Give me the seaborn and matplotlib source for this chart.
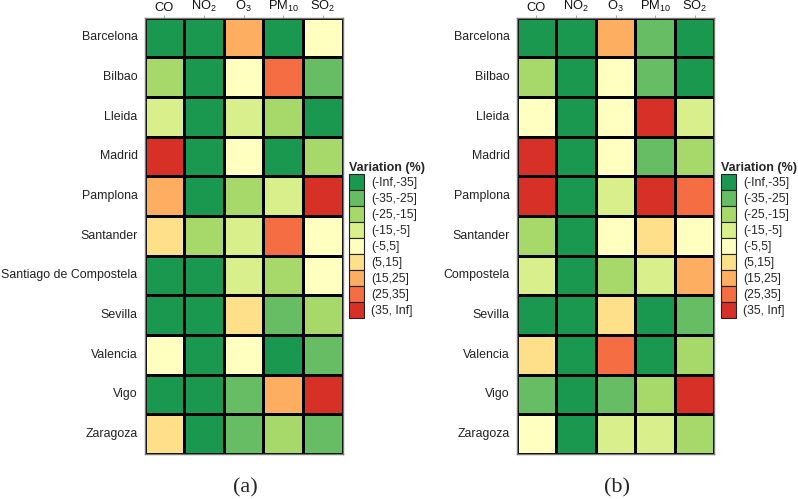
import numpy as np
import pandas as pd
import matplotlib
matplotlib.use("Agg")
import matplotlib.pyplot as plt
from matplotlib.colors import ListedColormap
from matplotlib.patches import Patch
import seaborn as sns

sns.set_style("white")
plt.rcParams['font.family'] = ['Liberation Sans', 'DejaVu Sans']
plt.rcParams['mathtext.fontset'] = 'custom'
plt.rcParams['mathtext.rm'] = 'Liberation Sans'
plt.rcParams['mathtext.it'] = 'Liberation Sans:italic'
plt.rcParams['mathtext.bf'] = 'Liberation Sans:bold'

pollutants = ['CO', r'NO$_2$', r'O$_3$', r'PM$_{10}$', r'SO$_2$']
cities_a = ['Barcelona', 'Bilbao', 'Lleida', 'Madrid', 'Pamplona', 'Santander',
            'Santiago de Compostela', 'Sevilla', 'Valencia', 'Vigo', 'Zaragoza']
cities_b = ['Barcelona', 'Bilbao', 'Lleida', 'Madrid', 'Pamplona', 'Santander',
            'Compostela', 'Sevilla', 'Valencia', 'Vigo', 'Zaragoza']
classes = ['(-Inf,-35]', '(-35,-25]', '(-25,-15]', '(-15,-5]', '(-5,5]',
           '(5,15]', '(15,25]', '(25,35]', '(35, Inf]']
colors = ['#1a9850', '#66bd63', '#a6d96a', '#d9ef8b', '#ffffbf',
          '#fee08b', '#fdae61', '#f46d43', '#d73027']

# class index (0 = (-Inf,-35] ... 8 = (35, Inf]) per pollutant, panel (a)
a_co   = [0, 2, 3, 8, 6, 5, 0, 0, 4, 0, 5]
a_no2  = [0, 0, 0, 0, 0, 2, 0, 0, 0, 0, 0]
a_o3   = [6, 4, 3, 4, 2, 3, 3, 5, 4, 1, 1]
a_pm10 = [0, 7, 2, 0, 3, 7, 2, 1, 0, 6, 2]
a_so2  = [4, 1, 0, 2, 8, 4, 4, 2, 1, 8, 1]
# panel (b)
b_co   = [0, 2, 4, 8, 8, 2, 3, 0, 5, 1, 4]
b_no2  = [0, 0, 0, 0, 0, 0, 0, 0, 0, 0, 0]
b_o3   = [6, 4, 4, 4, 3, 4, 2, 5, 7, 1, 3]
b_pm10 = [1, 1, 8, 1, 8, 5, 3, 0, 0, 2, 3]
b_so2  = [0, 0, 3, 2, 7, 4, 6, 1, 2, 8, 2]

df_a = pd.DataFrame({p: v for p, v in zip(pollutants, [a_co, a_no2, a_o3, a_pm10, a_so2])}, index=cities_a)
df_b = pd.DataFrame({p: v for p, v in zip(pollutants, [b_co, b_no2, b_o3, b_pm10, b_so2])}, index=cities_b)

cmap = ListedColormap(colors)
fig = plt.figure(figsize=(7.98, 4.99), dpi=100)
W, H = 798, 499
def axrect(x0, x1, y0, y1):
    return [x0 / W, 1 - y1 / H, (x1 - x0) / W, (y1 - y0) / H]

ax_a = fig.add_axes(axrect(144.5, 342.5, 17.5, 454))
ax_b = fig.add_axes(axrect(516.5, 714.5, 17.5, 454))

for ax, df, lab, lx in [(ax_a, df_a, '(a)', 245), (ax_b, df_b, '(b)', 617)]:
    sns.heatmap(df, ax=ax, cmap=cmap, vmin=-0.5, vmax=8.5, cbar=False,
                linewidths=0.8, linecolor='black', square=False)
    ax.xaxis.tick_top()
    ax.set_xticklabels(pollutants, fontsize=9.3, color='#111111')
    ax.set_yticklabels(df.index, rotation=0, fontsize=8.9, color='#222222')
    ax.tick_params(axis='y', length=3, width=0.8, color='#aaaaaa', pad=2)
    ax.tick_params(axis='x', length=2, width=0.8, color='#aaaaaa', pad=0.3)
    ax.set_xlabel('')
    ax.set_ylabel('')
    for s in ax.spines.values():
        s.set_visible(True)
        s.set_color('#777777')
        s.set_linewidth(1.0)
    fig.text(lx / W, 1 - 488 / H, lab, ha='center', va='center',
             fontsize=16, family='Liberation Serif')
    handles = [Patch(facecolor=c, edgecolor='#222222', linewidth=0.8, label=l)
               for c, l in zip(colors, classes)]
    leg = ax.legend(handles=handles, loc='upper left', bbox_to_anchor=(1.033, 0.67),
                    frameon=False, title='Variation (%)', fontsize=8.8,
                    title_fontproperties={'weight': 'bold', 'size': 9.0},
                    handlelength=1.25, handleheight=1.65, labelspacing=0.0,
                    handletextpad=0.55, borderaxespad=0, borderpad=0)
    leg._legend_box.align = 'left'

fig.savefig('out.png', dpi=100)
